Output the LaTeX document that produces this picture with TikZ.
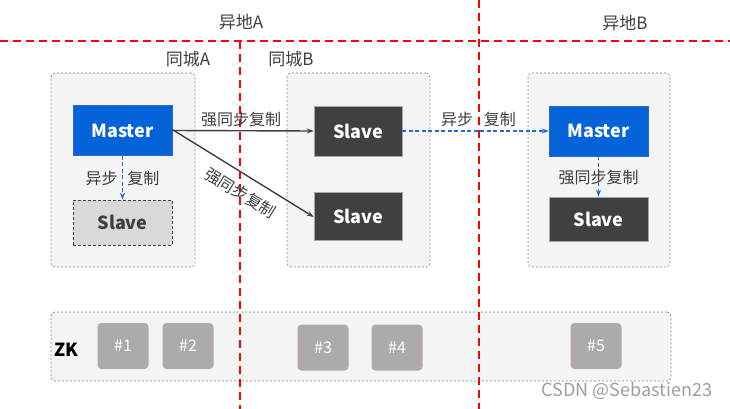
\documentclass[tikz,border=0pt]{standalone}
\usepackage{fontspec}
\setmainfont{Noto Sans CJK SC}
\usetikzlibrary{arrows.meta}
\definecolor{mblue}{HTML}{0563D9}
\definecolor{sdark}{HTML}{404040}
\definecolor{regfill}{HTML}{F4F4F4}
\definecolor{regline}{HTML}{8C8C8C}
\definecolor{zkfill}{HTML}{AEAAAA}
\definecolor{txtgray}{HTML}{3F3F3F}
\definecolor{arrblue}{HTML}{1F6BDB}
\tikzset{
  region/.style={draw=regline, dashed, dash pattern=on 2pt off 2pt, fill=regfill, rounded corners=4pt, line width=0.7pt, inner sep=0pt},
  masterbox/.style={fill=mblue, draw=mblue!70!gray, line width=0.5pt, text=white, font=\bfseries\fontsize{18}{20}\selectfont, inner sep=0pt},
  slavebox/.style={fill=sdark, draw=gray!70, line width=0.5pt, text=white, font=\bfseries\fontsize{18}{20}\selectfont, inner sep=0pt},
  slaveweak/.style={fill=gray!30, draw=sdark, dashed, dash pattern=on 3pt off 2pt, line width=0.8pt, text=txtgray, font=\bfseries\fontsize{18}{20}\selectfont, inner sep=0pt},
  zkbox/.style={fill=zkfill, rounded corners=4pt, text=white, font=\fontsize{16}{18}\selectfont, minimum width=51pt, minimum height=46pt, inner sep=0pt},
  redline/.style={draw=red, line width=1.8pt, dash pattern=on 8pt off 5pt},
  solidarr/.style={draw=sdark, line width=1.4pt, -{Stealth[length=7pt,width=5pt]}},
  bluearr/.style={draw=arrblue, line width=1.6pt, dash pattern=on 4pt off 2.5pt, -{Stealth[length=7pt,width=5pt]}},
  lbl/.style={text=txtgray, font=\fontsize{16}{18}\selectfont, inner sep=1pt},
  title/.style={text=txtgray, font=\fontsize{17}{19}\selectfont}
}
\begin{document}
\begin{tikzpicture}[x=1pt,y=-1pt]
\useasboundingbox[fill=white] (0,0) rectangle (730,409);
% regions
\node[region, minimum width=144pt, minimum height=194pt] (cityA) at (123,170) {};
\node[region, minimum width=143pt, minimum height=194pt] (cityB) at (358.5,170) {};
\node[region, minimum width=142pt, minimum height=194pt] (remB) at (599,170) {};
\node[region, minimum width=620pt, minimum height=69pt] (zk) at (361,346.5) {};
% red separators
\coordinate (h1) at (0,41);
\coordinate (h2) at (730,41);
\coordinate (v1a) at (240,41);
\coordinate (v1b) at (240,409);
\coordinate (v2a) at (479,0);
\coordinate (v2b) at (479,409);
\draw[redline] (h1) -- (h2);
\draw[redline] (v1a) -- (v1b);
\draw[redline] (v2a) -- (v2b);
% titles
\node[title] (tA) at (241,22) {异地A};
\node[title] (tB) at (625,23) {异地B};
\node[title] (cA) at (188,59) {同城A};
\node[title] (cB) at (291,59) {同城B};
% boxes
\node[masterbox, minimum width=99pt, minimum height=50pt] (mA) at (122.5,130.5) {Master};
\node[slaveweak, minimum width=99pt, minimum height=45pt] (sA) at (122.5,222.5) {Slave};
\node[slavebox, minimum width=88pt, minimum height=50pt] (sB1) at (358,131) {Slave};
\node[slavebox, minimum width=88pt, minimum height=48pt] (sB2) at (358,216) {Slave};
\node[masterbox, minimum width=99pt, minimum height=50pt] (mB) at (598.5,131) {Master};
\node[slavebox, minimum width=99pt, minimum height=44pt] (sB3) at (598.5,219) {Slave};
% arrows
\draw[bluearr] (mA.south) -- (sA.north)
  node[lbl, midway, left, xshift=-3pt, yshift=-1pt] (l1) {异步}
  node[lbl, midway, right, xshift=3pt, yshift=-1pt] (l2) {复制};
\draw[solidarr] (mA.east) -- (sB1.west)
  node[lbl, midway, above, yshift=2pt, xshift=-2pt] (l3) {强同步复制};
\draw[solidarr] ([yshift=1pt]mA.east) -- ([yshift=-1pt]sB2.west)
  node[lbl, pos=0.55, sloped, below=9pt] (l4) {强同步复制};
\draw[bluearr] (sB1.east) -- (mB.west)
  node[lbl, pos=0.374, above, yshift=2pt] (l5) {异步}
  node[lbl, pos=0.667, above, yshift=2pt] (l6) {复制};
\draw[bluearr] (mB.south) -- (sB3.north)
  node[lbl, midway, yshift=-1pt] (l7) {强同步复制};
% ZK
\node[font=\bfseries\fontsize{18}{20}\selectfont, text=black] (zkl) at (66,350) {ZK};
\node[zkbox] (z1) at (123,346) {\#1};
\node[zkbox] (z2) at (188,346) {\#2};
\node[zkbox] (z3) at (323,347.5) {\#3};
\node[zkbox] (z4) at (397,347.5) {\#4};
\node[zkbox] (z5) at (596,346) {\#5};
% watermark
\node[text=gray!75, font=\fontsize{18}{20}\selectfont] (wm) at (627,391) {CSDN @Sebastien23};
\end{tikzpicture}
\end{document}
